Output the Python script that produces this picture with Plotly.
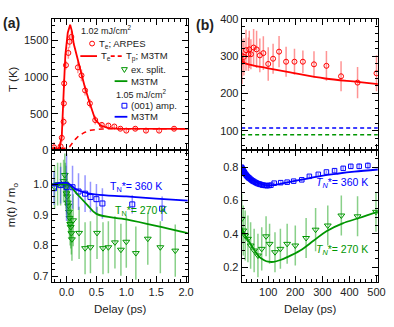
import plotly.graph_objects as go

W, H = 394, 327
def X(px): return px / W
def Y(py): return 1 - py / H

RED = "rgb(255,0,0)"; RED_L = "rgba(255,60,60,0.55)"
GRN = "rgb(0,150,0)"; GRN_L = "rgba(40,170,40,0.55)"
BLU = "rgb(0,0,255)"; BLU_L = "rgba(60,60,255,0.55)"
FONT = "Liberation Sans, Arial, sans-serif"

# ---------------- panel (a) top: temperatures vs delay (ps) ----------------
arpes_t = [-0.21, -0.10, -0.08, -0.05, -0.045, -0.04, -0.01, 0.03, 0.05, 0.08,
           0.19, 0.25, 0.31, 0.39, 0.48, 0.59, 0.70, 0.80, 0.90, 1.00, 1.15, 1.33, 1.55, 1.80]
arpes_T = [43, 56, 173, 391, 640, 912, 1160, 1326, 1478, 1543,
           1130, 1021, 817, 640, 413, 348, 339, 326, 296, 270, 296, 270, 270, 296]
arpes_err = [70, 60, 60, 60, 60, 60, 60, 80, 80, 80,
             80, 80, 70, 60, 60, 40, 30, 25, 25, 25, 25, 25, 25, 25]

te_t = [-0.25, -0.12, -0.08, -0.06, -0.04, -0.02, 0.02, 0.06, 0.09, 0.12, 0.20, 0.25,
        0.30, 0.39, 0.48, 0.57, 0.70, 0.85, 2.03]
te_T = [30, 30, 200, 500, 950, 1300, 1600, 1710, 1620, 1450, 1180, 1020,
        880, 640, 420, 340, 305, 297, 295]
tp_t = [-0.25, 0.0, 0.05, 0.10, 0.15, 0.20, 0.30, 0.40, 0.50, 0.60, 0.80, 2.03]
tp_T = [30, 30, 50, 110, 155, 195, 245, 275, 288, 293, 296, 295]

# ---------------- panel (a) bottom: m(t)/m0 vs delay (ps) ----------------
amp_t = [-0.21, -0.10, 0.0, 0.10, 0.20, 0.31, 0.40, 0.50, 0.60, 1.10, 1.60]
amp_m = [0.987, 0.997, 0.990, 0.990, 0.976, 0.969, 0.958, 0.951, 0.937, 0.934, 0.920]
amp_err = [0.055, 0.06, 0.11, 0.07, 0.06, 0.06, 0.05, 0.05, 0.05, 0.03, 0.04]

amp_fit_t = [-0.25, -0.10, 0.0, 0.05, 0.15, 0.30, 0.50, 1.0, 1.5, 2.03]
amp_fit_m = [0.998, 1.004, 1.004, 1.0, 0.984, 0.973, 0.966, 0.960, 0.953, 0.946]

split_t = [-0.20, -0.15, -0.10, -0.05, -0.03, -0.02, -0.01, 0.0, 0.01, 0.02,
           0.03, 0.04, 0.05, 0.06, 0.07, 0.08, 0.09,
           0.11, 0.21, 0.31, 0.40, 0.51, 0.61, 0.70, 0.81, 0.91, 1.00, 1.16, 1.36, 1.57, 1.82]
split_m = [0.99, 1.00, 1.00, 1.01, 1.03, 1.00, 0.99, 0.97, 0.96, 0.94,
           0.93, 0.91, 0.89, 0.87, 0.86, 0.84, 0.82,
           0.882, 0.841, 0.791, 0.794, 0.841, 0.791, 0.794, 0.810, 0.786, 0.812, 0.775, 0.822, 0.794, 0.783]
split_err = [0.07, 0.07, 0.07, 0.07, 0.07, 0.07, 0.07, 0.07, 0.07, 0.07,
             0.07, 0.07, 0.07, 0.07, 0.07, 0.07, 0.07,
             0.085, 0.085, 0.085, 0.085, 0.085, 0.085, 0.085, 0.085, 0.085, 0.085, 0.087, 0.085, 0.085, 0.085]

split_fit_t = [-0.25, 0.0, 0.05, 0.10, 0.20, 0.35, 0.50, 1.0, 1.5, 2.03]
split_fit_m = [1.0, 1.0, 0.998, 0.985, 0.963, 0.932, 0.903, 0.885, 0.864, 0.840]

# ---------------- panel (b) top: temperatures vs delay (ps) ----------------
arpes2_t = [1, 3, 10, 18, 27, 30, 36, 46, 57, 69, 82, 100, 118, 140, 166, 197, 228,
            269, 315, 369, 430, 500]
arpes2_T = [302, 285, 298, 316, 305, 318, 305, 323, 318, 302, 308, 279, 293, 312, 285, 285, 285,
            278, 274, 246, 229, 254]
arpes2_err = [55, 60, 50, 55, 45, 50, 40, 50, 50, 45, 45, 45, 40, 42, 40, 35, 30,
              35, 40, 40, 42, 48]

te2_t = [0, 10, 40, 95, 190, 310, 430, 505]
te2_T = [292, 282, 276, 268, 255, 240, 231, 225]
tp_blue = [107, 107]
tp_green = [89, 89]
flat_t = [0, 505]

# ---------------- panel (b) bottom: m(t)/m0 vs delay (ps) ----------------
amp2_t = [1, 3, 5, 7, 9, 11, 13, 16, 19, 22, 25, 28, 31, 35, 39, 43, 47, 52, 57, 62, 67, 72,
          78, 84, 90, 96, 103, 110, 122, 146, 170, 194, 224, 252, 285, 315, 345, 377, 405, 436, 468]
amp2_m = [0.80, 0.795, 0.788, 0.781, 0.775, 0.770, 0.765, 0.758, 0.752, 0.746, 0.741, 0.736,
          0.733, 0.727, 0.722, 0.717, 0.714, 0.709, 0.705, 0.701, 0.699, 0.696,
          0.693, 0.691, 0.690, 0.689, 0.690, 0.692, 0.704, 0.707, 0.710, 0.716, 0.724, 0.745, 0.757,
          0.771, 0.779, 0.793, 0.805, 0.805, 0.810]
amp2_err = [0.008] * 36 + [0.012, 0.014, 0.016, 0.018, 0.02]

amp2_fit_t = [0, 20, 50, 80, 104, 130, 176, 240, 297, 360, 418, 505]
amp2_fit_m = [0.81, 0.755, 0.715, 0.696, 0.690, 0.695, 0.710, 0.730, 0.748, 0.762, 0.773, 0.786]

split2_t = [2, 8, 15, 25, 35, 48, 62, 76, 92, 105, 125, 145, 170, 200, 240, 275, 320, 370, 430, 498]
split2_m = [0.49, 0.42, 0.39, 0.37, 0.33, 0.30, 0.27, 0.31, 0.385, 0.34, 0.29, 0.31, 0.34, 0.33,
            0.375, 0.425, 0.45, 0.51, 0.505, 0.532]
split2_err = [0.15, 0.15, 0.15, 0.14, 0.14, 0.13, 0.13, 0.13, 0.12, 0.12, 0.12, 0.12, 0.12, 0.12,
              0.12, 0.13, 0.12, 0.12, 0.12, 0.12]

split2_fit_t = [0, 15, 31, 50, 67, 85, 100, 120, 145, 170, 218, 267, 315, 375, 436, 505]
split2_fit_m = [0.44, 0.39, 0.348, 0.30, 0.262, 0.242, 0.233, 0.232, 0.243, 0.26, 0.30, 0.358,
                0.416, 0.463, 0.495, 0.534]

fig = go.Figure()

def err(arr, color):
    return dict(type="data", array=arr, color=color, thickness=1.5, width=0)

MK = dict(size=5, line=dict(width=1))
# (a) top
fig.add_trace(go.Scatter(x=tp_t, y=tp_T, mode="lines", line=dict(color=RED, width=1.5, dash="5px,4px"),
                         xaxis="x", yaxis="y"))
fig.add_trace(go.Scatter(x=arpes_t, y=arpes_T, mode="markers", error_y=err(arpes_err, RED_L),
                         marker=dict(symbol="circle-open", color=RED, **MK),
                         xaxis="x", yaxis="y"))
fig.add_trace(go.Scatter(x=te_t, y=te_T, mode="lines", line=dict(color=RED, width=1.8),
                         xaxis="x", yaxis="y"))
# (a) bottom
fig.add_trace(go.Scatter(x=split_t, y=split_m, mode="markers", error_y=err(split_err, GRN_L),
                         marker=dict(symbol="triangle-down-open", color=GRN, size=6, line=dict(width=1)),
                         xaxis="x2", yaxis="y2"))
fig.add_trace(go.Scatter(x=amp_t, y=amp_m, mode="markers", error_y=err(amp_err, BLU_L),
                         marker=dict(symbol="square-open", color=BLU, **MK),
                         xaxis="x2", yaxis="y2"))
fig.add_trace(go.Scatter(x=split_fit_t, y=split_fit_m, mode="lines", line=dict(color=GRN, width=1.8),
                         line_shape="spline", xaxis="x2", yaxis="y2"))
fig.add_trace(go.Scatter(x=amp_fit_t, y=amp_fit_m, mode="lines", line=dict(color=BLU, width=1.8),
                         line_shape="spline", xaxis="x2", yaxis="y2"))
# (b) top
fig.add_trace(go.Scatter(x=flat_t, y=tp_blue, mode="lines", line=dict(color=BLU, width=1.5, dash="4px,3px"),
                         xaxis="x3", yaxis="y3"))
fig.add_trace(go.Scatter(x=flat_t, y=tp_green, mode="lines", line=dict(color=GRN, width=1.5, dash="4px,3px"),
                         xaxis="x3", yaxis="y3"))
fig.add_trace(go.Scatter(x=arpes2_t, y=arpes2_T, mode="markers", error_y=err(arpes2_err, RED_L),
                         marker=dict(symbol="circle-open", color=RED, **MK),
                         xaxis="x3", yaxis="y3"))
fig.add_trace(go.Scatter(x=te2_t, y=te2_T, mode="lines", line=dict(color=RED, width=1.8),
                         line_shape="spline", xaxis="x3", yaxis="y3"))
# (b) bottom
fig.add_trace(go.Scatter(x=split2_t, y=split2_m, mode="markers", error_y=err(split2_err, GRN_L),
                         marker=dict(symbol="triangle-down-open", color=GRN, size=6, line=dict(width=1)),
                         xaxis="x4", yaxis="y4"))
fig.add_trace(go.Scatter(x=amp2_t, y=amp2_m, mode="markers", error_y=err(amp2_err, BLU_L),
                         marker=dict(symbol="square-open", color=BLU, size=4.5, line=dict(width=1)),
                         xaxis="x4", yaxis="y4"))
fig.add_trace(go.Scatter(x=split2_fit_t, y=split2_fit_m, mode="lines", line=dict(color=GRN, width=1.8),
                         line_shape="spline", xaxis="x4", yaxis="y4"))
fig.add_trace(go.Scatter(x=amp2_fit_t, y=amp2_fit_m, mode="lines", line=dict(color=BLU, width=1.8),
                         line_shape="spline", xaxis="x4", yaxis="y4"))

xa = [X(52.7), X(191.7)]
xb = [X(246.7), X(385.7)]
ytop = [Y(150), Y(13.3)]
ybot = [Y(286.7), Y(150)]

def ax(domain, rng, dtick, mdtick, anchor, labels=True, fmt=None, tickvals=None):
    d = dict(domain=domain, range=rng, dtick=dtick, tick0=0, ticks="inside", ticklen=6,
             tickwidth=1, tickcolor="black", showline=True, linecolor="black", linewidth=1,
             mirror="allticks", showgrid=False, zeroline=False, anchor=anchor,
             showticklabels=labels, tickfont=dict(size=11, color="#222", family=FONT),
             ticklabeloverflow="allow",
             minor=dict(dtick=mdtick, ticks="inside", ticklen=3, tickcolor="black", showgrid=False))
    if fmt:
        d["tickformat"] = fmt
    if tickvals is not None:
        d["tickmode"] = "array"
        d["tickvals"] = tickvals
    return d

XB_RANGE = [2, 505]
fig.update_layout(
    width=W, height=H, margin=dict(l=0, r=0, t=0, b=0),
    paper_bgcolor="white", plot_bgcolor="white", showlegend=False, hovermode=False,
    font=dict(family=FONT, size=11, color="#222"),
    xaxis=ax(xa, [-0.25, 2.03], 0.5, 0.1, "y", labels=False),
    yaxis=ax(ytop, [0, 1790], 500, 100, "x"),
    xaxis2=ax(xa, [-0.25, 2.03], 0.5, 0.1, "y2", fmt=".1f"),
    yaxis2=ax(ybot, [0.68, 1.11], 0.1, 0.02, "x2", fmt=".1f", tickvals=[0.7, 0.8, 0.9, 1.0]),
    xaxis3=ax(xb, XB_RANGE, 100, 20, "y3", labels=False),
    yaxis3=ax(ytop, [47, 400], 100, 20, "x3"),
    xaxis4=ax(xb, XB_RANGE, 100, 20, "y4", tickvals=[100, 200, 300, 400, 500]),
    yaxis4=ax(ybot, [0.11, 0.9], 0.2, 0.05, "x4", fmt=".1f"),
)

ann = []
def txt(x, y, s, color="#222", size=9.5, xanchor="left", angle=0, bold=False):
    if bold:
        s = "<b>" + s + "</b>"
    ann.append(dict(x=X(x), y=Y(y), xref="paper", yref="paper", text=s, showarrow=False,
                    xanchor=xanchor, yanchor="middle", textangle=angle,
                    font=dict(size=size, color=color, family=FONT)))

txt(12, 18, "(a)", size=14, xanchor="center", bold=True)
txt(209, 20, "(b)", size=14, xanchor="center", bold=True)
txt(13, 76, "T (K)", size=11.5, xanchor="center", angle=-90)
txt(13, 206, "m(t) / m<sub>o</sub>", size=11.5, xanchor="center", angle=-90)
txt(123, 315, "Delay (ps)", size=11.5, xanchor="center")
txt(317, 315, "Delay (ps)", size=11.5, xanchor="center")

# legend (a)
txt(81, 25, "1.02 mJ/cm<sup>2</sup>", size=9)
txt(99, 39, "T<sub>e</sub>; ARPES", size=9.5)
txt(101, 52, "T<sub>e</sub>", size=9.5)
txt(127, 52, "T<sub>p</sub>; M3TM", size=9.5)
txt(132, 66, "ex. split.", size=9.5)
txt(132, 78, "M3TM", size=9.5)
txt(116, 91, "1.05 mJ/cm<sup>2</sup>", size=9)
txt(132, 103, "(001) amp.", size=9.5)
txt(132, 115, "M3TM", size=9.5)

# T_N* labels
txt(110, 188, "T<sub>N</sub>*= 360 K", color=BLU, size=10.5)
txt(115, 213, "T<sub>N</sub>*= 270 K", color=GRN, size=10.5)
txt(321, 184, "<i>T<sub>N</sub></i>*= 360 K", color=BLU, size=10.5)
txt(321, 253, "<i>T<sub>N</sub></i>*= 270 K", color=GRN, size=10.5)

shapes = []
def seg(x0, x1, y, color, dash="solid"):
    shapes.append(dict(type="line", xref="paper", yref="paper", x0=X(x0), x1=X(x1), y0=Y(y), y1=Y(y),
                       line=dict(color=color, width=1.8, dash=dash)))
seg(82, 99, 52, RED)
seg(113, 125.5, 52, RED, "4px,3px")
seg(117, 130, 78, GRN)
seg(117, 130, 115, BLU)
shapes.append(dict(type="circle", xref="paper", yref="paper", x0=X(91.5), x1=X(96.5), y0=Y(36.5), y1=Y(41.5),
                   line=dict(color=RED, width=1)))
shapes.append(dict(type="rect", xref="paper", yref="paper", x0=X(124.5), x1=X(129.5), y0=Y(101), y1=Y(106),
                   line=dict(color=BLU, width=1)))
shapes.append(dict(type="path", xref="paper", yref="paper",
                   path=f"M {X(124)} {Y(64)} L {X(130)} {Y(64)} L {X(127)} {Y(69)} Z",
                   line=dict(color=GRN, width=1)))

fig.update_layout(annotations=ann, shapes=shapes)
fig.write_html("out.html", config={"displayModeBar": False},
               post_script="document.body.style.margin='0px';")
